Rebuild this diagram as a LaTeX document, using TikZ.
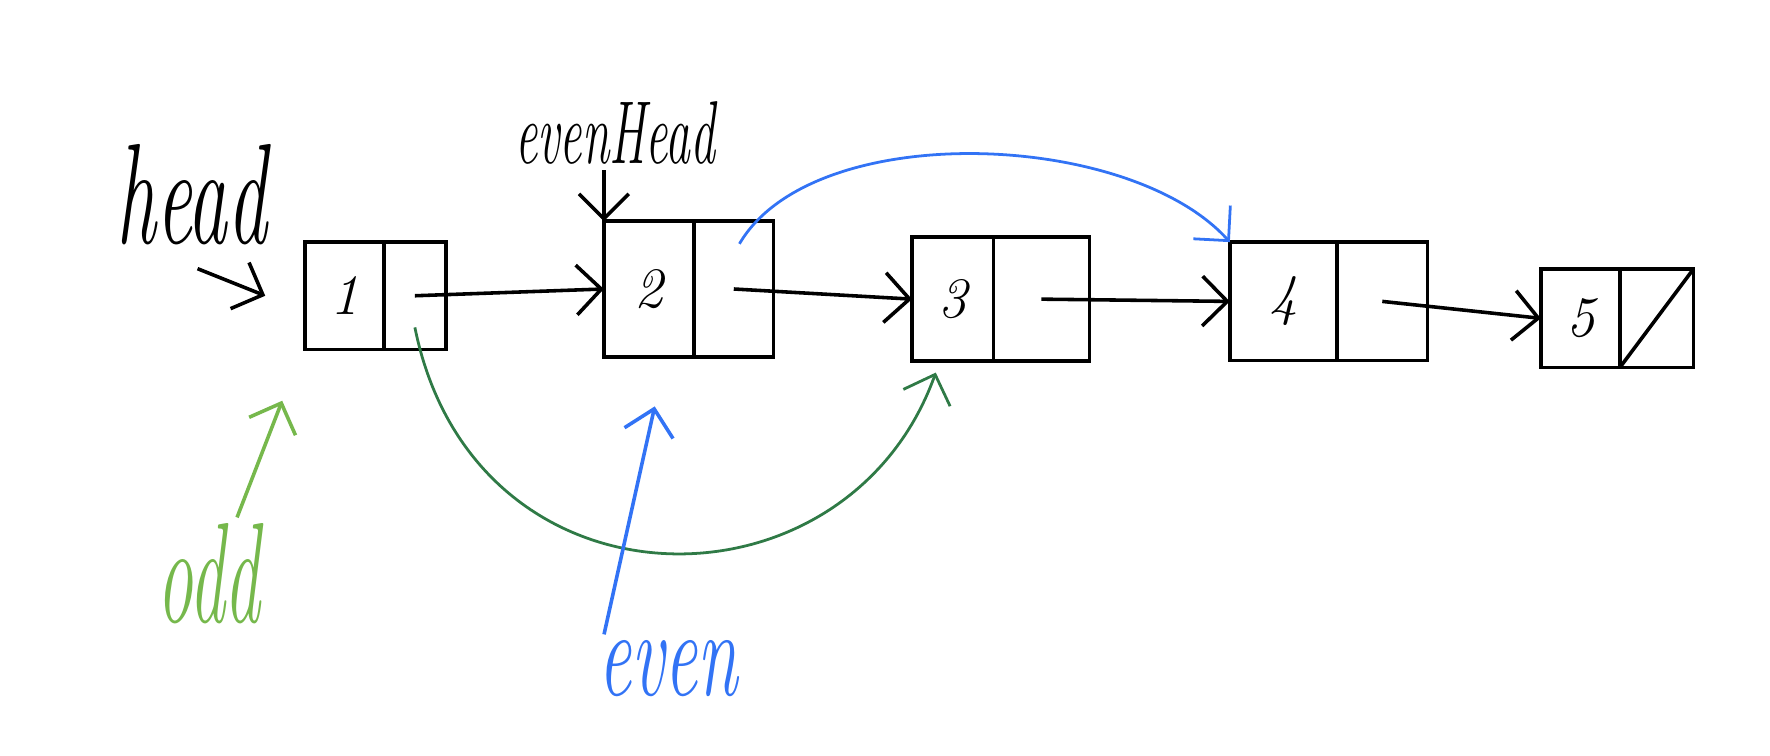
\documentclass[tikz,border=0pt]{standalone}
\usepackage{graphicx}
\usetikzlibrary{positioning,arrows.meta}
\definecolor{oddgreen}{HTML}{76B84C}
\definecolor{curvegreen}{HTML}{2F7A46}
\definecolor{evenblue}{HTML}{3273F5}
\tikzset{
	cell/.style={draw, line width=0.9pt, inner sep=0pt, outer sep=0pt, font=\Large\itshape},
	hand/.style={inner sep=1pt, font=\fontsize{#1}{#1}\selectfont\itshape},
}
\begin{document}
\begin{tikzpicture}[x=0.01cm, y=-0.01cm, >={Straight Barb[length=2.2mm,width=4.4mm]},
					line width=0.9pt]
				\useasboundingbox (0,0) rectangle (1568,669);
				% list cells: value part and pointer part
				\node[cell, minimum width=0.7cm, minimum height=0.95cm] (v1) at (305,262) {1};
				\node[cell, minimum width=0.55cm, minimum height=0.95cm, right=0pt of v1] (p1) {};
				\node[cell, minimum width=0.8cm, minimum height=1.2cm] (v2) at (575,256) {2};
				\node[cell, minimum width=0.7cm, minimum height=1.2cm, right=0pt of v2] (p2) {};
				\node[cell, minimum width=0.72cm, minimum height=1.1cm] (v3) at (844,265) {3};
				\node[cell, minimum width=0.85cm, minimum height=1.1cm, right=0pt of v3] (p3) {};
				\node[cell, minimum width=0.95cm, minimum height=1.05cm] (v4) at (1137,267) {4};
				\node[cell, minimum width=0.8cm, minimum height=1.05cm, right=0pt of v4] (p4) {};
				\node[cell, minimum width=0.7cm, minimum height=0.87cm] (v5) at (1400,282) {5};
				\node[cell, minimum width=0.65cm, minimum height=0.87cm, right=0pt of v5] (p5) {};
				\draw (p5.south west) -- (p5.north east);
				\foreach \a/\b in {1/2,2/3,3/4,4/5}
					\draw[->] (p\a.center) -- (v\b.west);
				% pointer labels
				\node[hand=20] (head) at (170,172) {\scalebox{1}[1.8]{head}};
				\coordinate (h0) at (175,238);
				\draw[->] (h0) -- ([xshift=-0.35cm]v1.west);
				\node[hand=12.5] (evenhead) at (545,118) {\scalebox{1}[1.8]{evenHead}};
				\draw[->] (evenhead.south -| v2.north west) -- (v2.north west);
				\draw[evenblue, line width=0.7pt, ->] ([xshift=0.05cm, yshift=-0.2cm]p2.north)
					.. controls (720,105) and (1000,115) .. (v4.north west);
				\draw[curvegreen, line width=0.7pt, ->] ([yshift=-0.28cm]p1.center)
					.. controls (420,550) and (750,550) .. ([xshift=-0.15cm, yshift=-0.1cm]v3.south);
				\node[hand=18, text=oddgreen] (odd) at (185,508) {\scalebox{1}[2]{odd}};
				\coordinate (oddtip) at (250,355);
				\draw[oddgreen, ->] ([xshift=0.25cm]odd.north) -- (oddtip);
				\node[hand=18.5, text=evenblue] (even) at (592,592) {\scalebox{1}[1.7]{even}};
				\coordinate (eventip) at (580,360);
				\draw[evenblue, ->] ([xshift=0.1cm]even.north west) -- (eventip);
			\end{tikzpicture}
\end{document}
